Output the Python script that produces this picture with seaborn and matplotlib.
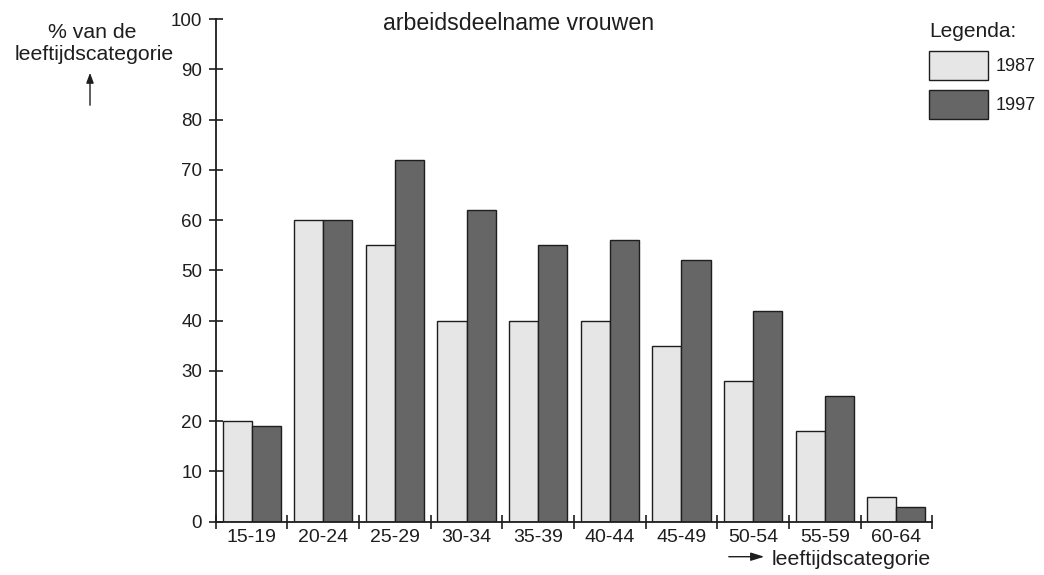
import matplotlib
matplotlib.use('Agg')
import matplotlib.pyplot as plt
import seaborn as sns
import pandas as pd
from matplotlib.patches import Patch, FancyArrowPatch

categories = ['15-19', '20-24', '25-29', '30-34', '35-39', '40-44', '45-49', '50-54', '55-59', '60-64']
years = ['1987', '1997']
values_1987 = [20, 60, 55, 40, 40, 40, 35, 28, 18, 5]
values_1997 = [19, 60, 72, 62, 55, 56, 52, 42, 25, 3]
y_ticks = [0, 10, 20, 30, 40, 50, 60, 70, 80, 90, 100]

df = pd.DataFrame({
    'leeftijd': categories * 2,
    'jaar': [years[0]] * len(categories) + [years[1]] * len(categories),
    'pct': values_1987 + values_1997,
})

colors = {'1987': '#e6e6e6', '1997': '#666666'}
ink = '#1e1e1e'

sns.set_theme(style='white')
plt.rcParams['font.family'] = ['Liberation Sans', 'DejaVu Sans']
plt.rcParams['text.color'] = ink

W, H = 1044, 575
fig = plt.figure(figsize=(W / 100, H / 100), dpi=100)
x0, x1, y0, y1 = 215.7, 932.3, 521.7, 19.0
ax = fig.add_axes([x0 / W, 1 - y0 / H, (x1 - x0) / W, (y0 - y1) / H])

sns.barplot(data=df, x='leeftijd', y='pct', hue='jaar', order=categories,
            hue_order=years, palette=colors, width=0.81, gap=0,
            saturation=1, edgecolor=ink, linewidth=1.0, ax=ax, legend=False)

ax.set_xlim(-0.5, len(categories) - 0.5)
ax.set_ylim(0, 100)
ax.set_xlabel('')
ax.set_ylabel('')
for s in ['top', 'right']:
    ax.spines[s].set_visible(False)
for s in ['left', 'bottom']:
    ax.spines[s].set_linewidth(1.3)
    ax.spines[s].set_color(ink)

ax.set_yticks(y_ticks)
ax.set_yticklabels([str(v) for v in y_ticks])
ax.tick_params(axis='y', direction='inout', length=9.4, width=1.2, color=ink,
               labelsize=13.5, labelcolor=ink, pad=5, left=True)
ax.set_xticks(range(len(categories)))
ax.set_xticklabels(categories)
ax.set_xticks([i - 0.5 for i in range(len(categories) + 1)], minor=True)
ax.tick_params(axis='x', which='major', length=0, labelsize=14, labelcolor=ink, pad=5)
ax.tick_params(axis='x', which='minor', direction='inout', length=9.4, width=1.2,
               color=ink, bottom=True)

# title
fig.text(519 / W, 1 - 30 / H, 'arbeidsdeelname vrouwen', ha='center', va='baseline',
         fontsize=16.7, color=ink)

# y label with arrow
fig.text(92 / W, 1 - 37.7 / H, '% van de', ha='center', va='baseline', fontsize=15.3, color=ink)
fig.text(94.5 / W, 1 - 60 / H, 'leeftijdscategorie', ha='center', va='baseline', fontsize=15.3, color=ink)
fig.add_artist(FancyArrowPatch(
    (90 / W, 1 - 108 / H), (90 / W, 1 - 70 / H), transform=fig.transFigure,
    arrowstyle='-|>,head_length=6,head_width=2.2', mutation_scale=1, lw=1.0, color=ink))

# x label with arrow
fig.add_artist(FancyArrowPatch(
    (726 / W, 1 - 556.7 / H), (767 / W, 1 - 556.7 / H), transform=fig.transFigure,
    arrowstyle='-|>,head_length=8,head_width=2.5', mutation_scale=1, lw=1.0, color=ink))
fig.text(772 / W, 1 - 565 / H, 'leeftijdscategorie', ha='left', va='baseline', fontsize=15.3, color=ink)

# legend
handles = [Patch(facecolor=colors[y], edgecolor=ink, linewidth=1.0) for y in years]
fs_px = 13 * 100 / 72
leg = fig.legend(handles, years, title='Legenda:', loc='upper left',
                 bbox_to_anchor=(929 / W, 1 - 22 / H), frameon=False, fontsize=13,
                 title_fontsize=15, handlelength=59 / fs_px, handleheight=2.094,
                 labelspacing=0.55, handletextpad=0.42, borderpad=0, borderaxespad=0,
                 alignment='left')

fig.savefig('out.png', dpi=100)
